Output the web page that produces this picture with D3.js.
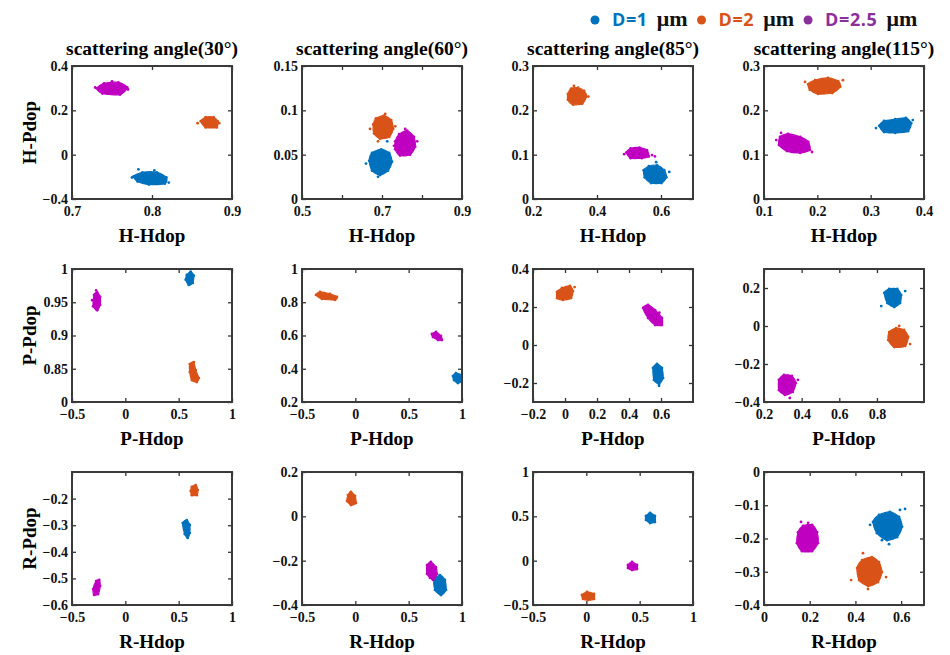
<!DOCTYPE html>
<html>
<head>
<meta charset="utf-8">
<script src="https://cdn.jsdelivr.net/npm/d3@7"></script>
<style>
body { margin: 0; background: #fff; }
</style>
</head>
<body>
<script>
// series: particle diameters
var seriesNames = ["D=1", "D=2", "D=2.5"];
var seriesColors = ["#0072BD", "#D95319", "#C000C0"];
var legendColors = ["#0072BD", "#D95319", "#8B2F9C"];

// panels: rows = H, P, R polarisation; columns = scattering angle
var angles = ["30°", "60°", "85°", "115°"];
var rowNames = ["H", "P", "R"];

var xDomains = [
  [0.7, 0.9], [0.5, 0.9], [0.2, 0.7], [0.1, 0.4],
  [-0.5, 1], [-0.5, 1], [-0.2, 0.8], [0.2, 1.05],
  [-0.5, 1], [-0.5, 1], [-0.5, 1], [0, 0.7]
];
var yDomains = [
  [-0.2, 0.4], [0, 0.15], [0, 0.3], [0, 0.3],
  [0.8, 1], [0.2, 1], [-0.3, 0.4], [-0.4, 0.3],
  [-0.6, -0.1], [-0.4, 0.2], [-0.5, 1], [-0.4, 0]
];
var xTicks = [
  [0.7, 0.8, 0.9], [0.5, 0.6, 0.7, 0.8, 0.9], [0.2, 0.4, 0.6], [0.1, 0.2, 0.3, 0.4],
  [-0.5, 0, 0.5, 1], [-0.5, 0, 0.5, 1], [-0.2, 0, 0.2, 0.4, 0.6], [0.2, 0.4, 0.6, 0.8],
  [-0.5, 0, 0.5, 1], [-0.5, 0, 0.5, 1], [-0.5, 0, 0.5, 1], [0, 0.2, 0.4, 0.6]
];
var xTickLabels = [
  ["0.7", "0.8", "0.9"], ["0.5", "", "0.7", "", "0.9"], ["0.2", "0.4", "0.6"], ["0.1", "0.2", "0.3", "0.4"],
  ["\u22120.5", "0", "0.5", "1"], ["\u22120.5", "0", "0.5", "1"], ["\u22120.2", "0", "0.2", "0.4", "0.6"], ["0.2", "0.4", "0.6", "0.8"],
  ["\u22120.5", "0", "0.5", "1"], ["\u22120.5", "0", "0.5", "1"], ["\u22120.5", "0", "0.5", "1"], ["0", "0.2", "0.4", "0.6"]
];
var yTicks = [
  [-0.2, 0, 0.2, 0.4], [0, 0.05, 0.1, 0.15], [0, 0.1, 0.2, 0.3], [0, 0.1, 0.2, 0.3],
  [0.8, 0.85, 0.9, 0.95, 1], [0.2, 0.4, 0.6, 0.8, 1], [-0.2, 0, 0.2, 0.4], [-0.4, -0.2, 0, 0.2],
  [-0.6, -0.5, -0.4, -0.3, -0.2], [-0.4, -0.2, 0, 0.2], [-0.5, 0, 0.5, 1], [-0.4, -0.3, -0.2, -0.1, 0]
];
var yTickLabels = [
  ["\u22120.4", "0", "0.2", "0.4"], ["0", "0.05", "0.1", "0.15"], ["0", "0.1", "0.2", "0.3"], ["0", "0.1", "0.2", "0.3"],
  ["0", "0.85", "0.9", "0.95", "1"], ["0.2", "0.4", "0.6", "0.8", "1"], ["\u22120.2", "0", "0.2", "0.4"], ["\u22120.4", "\u22120.2", "0", "0.2"],
  ["\u22120.6", "\u22120.5", "\u22120.4", "\u22120.3", "\u22120.2"], ["\u22120.4", "\u22120.2", "0", "0.2"], ["\u22120.5", "0", "0.5", "1"], ["\u22120.4", "\u22120.3", "\u22120.2", "\u22120.1", "0"]
];

// dense core of each cluster as [Hdop, Pdop] outline points
// per panel: [D=1, D=2, D=2.5]
var outlines = [
  [ // H 30
    [[0.777,-0.098],[0.788,-0.080],[0.806,-0.080],[0.818,-0.103],[0.816,-0.131],[0.796,-0.135],[0.782,-0.121]],
    [[0.861,0.151],[0.867,0.169],[0.877,0.169],[0.882,0.151],[0.881,0.123],[0.867,0.123]],
    [[0.731,0.299],[0.740,0.322],[0.758,0.326],[0.769,0.303],[0.760,0.271],[0.738,0.276]]
  ],
  [ // H 60
    [[0.668,0.043],[0.675,0.052],[0.698,0.056],[0.718,0.052],[0.725,0.042],[0.715,0.032],[0.695,0.027],[0.675,0.032]],
    [[0.678,0.084],[0.685,0.091],[0.705,0.094],[0.723,0.089],[0.728,0.079],[0.718,0.070],[0.695,0.068],[0.680,0.074]],
    [[0.733,0.065],[0.743,0.073],[0.763,0.077],[0.780,0.070],[0.783,0.059],[0.770,0.050],[0.745,0.049],[0.733,0.056]]
  ],
  [ // H 85
    [[0.546,0.065],[0.562,0.074],[0.588,0.076],[0.610,0.065],[0.617,0.049],[0.601,0.036],[0.569,0.036],[0.549,0.049]],
    [[0.309,0.237],[0.319,0.249],[0.341,0.251],[0.360,0.244],[0.367,0.231],[0.354,0.215],[0.325,0.213],[0.309,0.224]],
    [[0.492,0.105],[0.505,0.114],[0.533,0.116],[0.556,0.110],[0.562,0.096],[0.540,0.092],[0.505,0.092]]
  ],
  [ // H 115
    [[0.316,0.165],[0.325,0.176],[0.346,0.180],[0.366,0.183],[0.376,0.171],[0.370,0.153],[0.346,0.149],[0.325,0.151]],
    [[0.183,0.259],[0.196,0.268],[0.220,0.273],[0.239,0.266],[0.243,0.253],[0.228,0.239],[0.201,0.237],[0.186,0.246]],
    [[0.130,0.140],[0.145,0.147],[0.168,0.140],[0.183,0.129],[0.186,0.111],[0.168,0.104],[0.143,0.108],[0.128,0.122]]
  ],
  [ // P 30
    [[0.576,0.991],[0.613,0.996],[0.642,0.990],[0.632,0.979],[0.594,0.976],[0.566,0.984]],
    [[0.604,0.857],[0.642,0.860],[0.660,0.848],[0.689,0.836],[0.670,0.830],[0.623,0.833],[0.604,0.845]],
    [[-0.293,0.961],[-0.264,0.965],[-0.236,0.958],[-0.236,0.946],[-0.264,0.938],[-0.302,0.944]]
  ],
  [ // P 60
    [[0.915,0.356],[0.943,0.374],[0.990,0.362],[1.000,0.326],[0.962,0.314],[0.925,0.332]],
    [[-0.369,0.844],[-0.331,0.862],[-0.238,0.850],[-0.172,0.832],[-0.191,0.814],[-0.313,0.820]],
    [[0.718,0.609],[0.756,0.621],[0.803,0.597],[0.812,0.573],[0.775,0.573],[0.728,0.591]]
  ],
  [ // P 85
    [[0.550,-0.121],[0.575,-0.100],[0.606,-0.121],[0.613,-0.174],[0.588,-0.205],[0.556,-0.184]],
    [[-0.050,0.279],[-0.019,0.300],[0.031,0.311],[0.050,0.284],[0.038,0.247],[-0.013,0.237],[-0.050,0.247]],
    [[0.488,0.195],[0.519,0.211],[0.563,0.184],[0.606,0.142],[0.606,0.105],[0.563,0.105],[0.519,0.142]]
  ],
  [ // P 115
    [[0.839,0.174],[0.865,0.195],[0.908,0.195],[0.929,0.163],[0.923,0.121],[0.892,0.100],[0.855,0.121]],
    [[0.865,-0.032],[0.902,-0.011],[0.944,-0.021],[0.966,-0.058],[0.950,-0.105],[0.892,-0.111],[0.860,-0.074]],
    [[0.279,-0.284],[0.306,-0.258],[0.348,-0.263],[0.369,-0.300],[0.353,-0.347],[0.311,-0.363],[0.279,-0.337]]
  ],
  [ // R 30
    [[0.538,-0.292],[0.576,-0.281],[0.604,-0.299],[0.604,-0.329],[0.585,-0.348],[0.557,-0.333]],
    [[0.623,-0.156],[0.660,-0.149],[0.679,-0.168],[0.670,-0.187],[0.623,-0.187],[0.613,-0.171]],
    [[-0.274,-0.510],[-0.245,-0.506],[-0.236,-0.529],[-0.255,-0.559],[-0.293,-0.562],[-0.302,-0.540]]
  ],
  [ // R 60
    [[0.737,-0.287],[0.793,-0.265],[0.840,-0.287],[0.850,-0.332],[0.803,-0.355],[0.747,-0.332]],
    [[-0.069,0.096],[-0.041,0.110],[-0.003,0.092],[0.006,0.060],[-0.041,0.051],[-0.078,0.069]],
    [[0.672,-0.220],[0.709,-0.206],[0.756,-0.229],[0.765,-0.260],[0.728,-0.287],[0.672,-0.260]]
  ],
  [ // R 85
    [[0.559,0.504],[0.597,0.538],[0.643,0.504],[0.643,0.436],[0.597,0.425],[0.559,0.459]],
    [[-0.041,-0.387],[0.006,-0.353],[0.072,-0.376],[0.072,-0.432],[0.016,-0.444],[-0.031,-0.432]],
    [[0.390,-0.049],[0.428,-0.015],[0.475,-0.049],[0.475,-0.094],[0.428,-0.105],[0.390,-0.083]]
  ],
  [ // R 115
    [[0.477,-0.150],[0.503,-0.129],[0.551,-0.120],[0.591,-0.135],[0.604,-0.165],[0.582,-0.196],[0.538,-0.205],[0.494,-0.184]],
    [[0.407,-0.289],[0.429,-0.265],[0.472,-0.256],[0.503,-0.271],[0.516,-0.301],[0.499,-0.331],[0.455,-0.343],[0.416,-0.325]],
    [[0.149,-0.181],[0.171,-0.162],[0.210,-0.159],[0.232,-0.181],[0.236,-0.214],[0.210,-0.238],[0.166,-0.238],[0.144,-0.214]]
  ]
];

// loose points outside the dense cores
var strays = [
  [[[0.783,-0.066],[0.803,-0.071],[0.821,-0.126],[0.775,-0.103]], [[0.857,0.142],[0.884,0.142]], [[0.729,0.303],[0.770,0.294],[0.750,0.331]]],
  [[[0.713,0.065],[0.690,0.025],[0.660,0.040]], [[0.708,0.096],[0.690,0.065],[0.670,0.079],[0.733,0.082]], [[0.758,0.079],[0.730,0.060],[0.788,0.065]]],
  [[[0.626,0.061],[0.585,0.083]], [[0.373,0.231],[0.328,0.255]], [[0.572,0.099],[0.581,0.096],[0.485,0.101]]],
  [[[0.310,0.160],[0.379,0.178]], [[0.177,0.264],[0.248,0.268]], [[0.132,0.149],[0.190,0.106],[0.123,0.133]]],
  [[], [], [[-0.274,0.968],[-0.311,0.953]]],
  [[], [], []],
  [[[0.588,-0.215]], [[0.060,0.305]], [[0.590,0.170]]],
  [[[0.823,0.105],[0.950,0.184]], [[0.976,-0.095],[0.918,0.000]], [[0.380,-0.284],[0.337,-0.379]]],
  [[], [], []],
  [[], [], [[0.700,-0.278]]],
  [[], [], []],
  [[[0.595,-0.114],[0.617,-0.111],[0.464,-0.159],[0.547,-0.217],[0.516,-0.205]], [[0.381,-0.325],[0.534,-0.316],[0.433,-0.244],[0.455,-0.352]], [[0.193,-0.153],[0.162,-0.150]]]
];

var svg = d3.select("body")
  .append("svg")
  .attr("width", 950)
  .attr("height", 655);

var colX = [72, 302, 533, 764];
var rowY = [66, 269, 472];
var boxW = 160, boxH = 133;
var serif = "'Liberation Serif', 'Times New Roman', serif";

var blob = d3.line().curve(d3.curveCardinalClosed.tension(0.2));

outlines.forEach(function(panel, i) {
  var r = Math.floor(i / 4), c = i % 4;
  var g = svg.append("g").attr("transform", "translate(" + colX[c] + "," + rowY[r] + ")");

  var x = d3.scaleLinear().domain(xDomains[i]).range([0, boxW]);
  var y = d3.scaleLinear().domain(yDomains[i]).range([boxH, 0]);

  g.append("clipPath").attr("id", "clip" + i)
    .append("rect").attr("width", boxW).attr("height", boxH);

  // axes with inward ticks on all four sides
  var xl = xTickLabels[i], yl = yTickLabels[i];
  g.append("g").attr("class", "ax").attr("transform", "translate(0," + boxH + ")")
    .call(d3.axisBottom(x).tickValues(xTicks[i]).tickSizeInner(-4).tickSizeOuter(0).tickPadding(7)
      .tickFormat(function(d, k) { return xl[k]; }));
  g.append("g").attr("class", "ax")
    .call(d3.axisTop(x).tickValues(xTicks[i]).tickSizeInner(-4).tickSizeOuter(0).tickFormat(""));
  g.append("g").attr("class", "ax")
    .call(d3.axisLeft(y).tickValues(yTicks[i]).tickSizeInner(-4).tickSizeOuter(0).tickPadding(4)
      .tickFormat(function(d, k) { return yl[k]; }));
  g.append("g").attr("class", "ax").attr("transform", "translate(" + boxW + ",0)")
    .call(d3.axisRight(y).tickValues(yTicks[i]).tickSizeInner(-4).tickSizeOuter(0).tickFormat(""));

  g.selectAll(".ax .domain").remove();
  g.selectAll(".ax line").attr("stroke", "#333").attr("stroke-width", 1.3);
  g.selectAll(".ax text")
    .attr("font-family", serif).attr("font-weight", "bold")
    .attr("font-size", 14).attr("fill", "#111");

  // clusters
  var plot = g.append("g").attr("clip-path", "url(#clip" + i + ")");
  panel.forEach(function(pts, s) {
    plot.append("path")
      .attr("d", blob(pts.map(function(p) { return [x(p[0]), y(p[1])]; })))
      .attr("fill", seriesColors[s])
      .attr("stroke", seriesColors[s])
      .attr("stroke-width", 1.2);
    plot.selectAll(null)
      .data(pts.concat(strays[i][s]))
      .enter().append("circle")
      .attr("cx", function(d) { return x(d[0]); })
      .attr("cy", function(d) { return y(d[1]); })
      .attr("r", 1.4)
      .attr("fill", seriesColors[s]);
  });

  g.append("rect")
    .attr("width", boxW).attr("height", boxH)
    .attr("fill", "none").attr("stroke", "#3a3a3a").attr("stroke-width", 2);

  // labels
  g.append("text")
    .attr("x", boxW / 2).attr("y", boxH + 43)
    .attr("text-anchor", "middle")
    .attr("font-family", serif).attr("font-weight", "bold").attr("font-size", 19)
    .text(rowNames[r] + "-Hdop");

  if (c == 0) {
    g.append("text")
      .attr("transform", "translate(-36," + (boxH / 2) + ") rotate(-90)")
      .attr("text-anchor", "middle")
      .attr("font-family", serif).attr("font-weight", "bold").attr("font-size", 19)
      .text(rowNames[r] + "-Pdop");
  }
  if (r == 0) {
    g.append("text")
      .attr("x", boxW / 2).attr("y", -11)
      .attr("text-anchor", "middle")
      .attr("font-family", serif).attr("font-weight", "bold").attr("font-size", 19.5)
      .text("scattering angle(" + angles[c] + ")");
  }
});

// legend
var lx = 595;
var legend = svg.append("g");
seriesNames.forEach(function(name, s) {
  legend.append("circle").attr("cx", lx).attr("cy", 20).attr("r", 4.5).attr("fill", legendColors[s]);
  var t1 = legend.append("text").attr("x", lx + 17).attr("y", 26)
    .attr("font-family", "'Open Sans', sans-serif").attr("font-weight", "bold").attr("font-size", 18)
    .attr("letter-spacing", 0.6)
    .attr("fill", legendColors[s]).text(name);
  var w1 = t1.node().getComputedTextLength();
  var t2 = legend.append("text").attr("x", lx + 17 + w1 + 9).attr("y", 26)
    .attr("font-family", serif).attr("font-weight", "bold").attr("font-size", 22)
    .attr("fill", "#111").text("\u03bcm");
  var w2 = t2.node().getComputedTextLength();
  lx = lx + 17 + w1 + 9 + w2 + 14;
});
</script>
</body>
</html>
